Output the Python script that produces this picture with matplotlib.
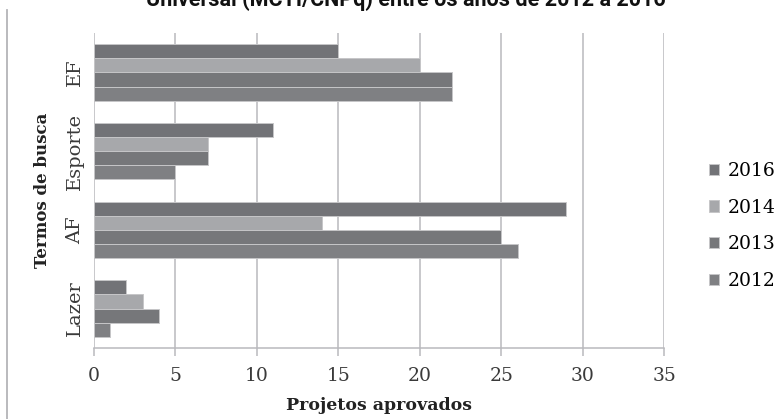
import numpy as np
import matplotlib
matplotlib.use("Agg")
import matplotlib.pyplot as plt
from matplotlib.lines import Line2D

categories = ["Lazer", "AF", "Esporte", "EF"]
years = ["2016", "2014", "2013", "2012"]
v2016 = [2, 29, 11, 15]
v2014 = [3, 14, 7, 20]
v2013 = [4, 25, 7, 22]
v2012 = [1, 26, 5, 22]
xticks = [0, 5, 10, 15, 20, 25, 30, 35]

series = [v2016, v2014, v2013, v2012]
colors = ["#727377", "#a7a8ab", "#76777a", "#7f8083"]
offsets = [0.27, 0.09, -0.09, -0.27]

plt.rcParams["font.family"] = ["DejaVu Serif"]
fig = plt.figure(figsize=(7.82, 4.19), dpi=100)
ax = fig.add_axes([0.1198, 0.1695, 0.7297, 0.7517])

y = np.arange(len(categories))
for vals, col, off, lab in zip(series, colors, offsets, years):
    ax.barh(y + off, vals, height=0.18, color=col, edgecolor="#c6c6c8",
            linewidth=0.7, label=lab, zorder=3)

grid_c = "#b9b9bd"
ax.set_xlim(0, 35)
ax.set_ylim(-0.5, 3.5)
ax.set_xticks(xticks)
ax.set_xticklabels([str(t) for t in xticks], fontsize=13.5, color="#3a3a3a")
ax.set_yticks(y)
ax.set_yticklabels(categories, rotation=90, va="center", fontsize=14,
                   color="#3a3a3a")
ax.tick_params(axis="y", length=0, pad=7)
ax.tick_params(axis="x", length=5.5, width=1.1, color=grid_c, pad=8)
ax.xaxis.grid(True, color=grid_c, linewidth=1.1, zorder=0)
for s in ["top", "right", "left"]:
    ax.spines[s].set_visible(False)
ax.spines["bottom"].set_color(grid_c)
ax.spines["bottom"].set_linewidth(1.1)

ax.set_xlabel("Projetos aprovados", fontsize=12.5, fontweight="bold",
              color="#222222", labelpad=9)
ax.set_ylabel("Termos de busca", fontsize=12, fontweight="bold",
              color="#222222", labelpad=11)

ax.legend(loc="center left", bbox_to_anchor=(1.065, 0.387), frameon=False,
          fontsize=13.5, handlelength=0.55, handleheight=0.55,
          handletextpad=0.45, labelspacing=1.0, borderaxespad=0)

fig.text(0.519, 1 - 6 / 419, "Universal (MCTI/CNPq) entre os anos de 2012 a 2016",
         ha="center", va="baseline", fontsize=15.5, fontweight="bold",
         family=["Roboto", "DejaVu Sans"], color="#111111")

fig.add_artist(Line2D([7 / 782, 7 / 782], [0, 1 - 10 / 419],
                      transform=fig.transFigure, color="#b4b4b8", linewidth=1.3))

fig.savefig("out.png", dpi=100)
